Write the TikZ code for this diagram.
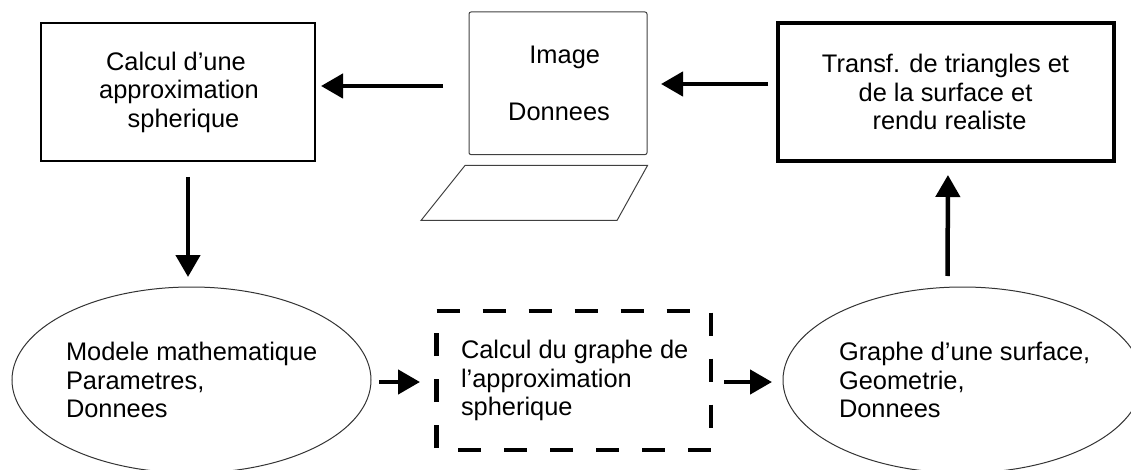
\documentclass[tikz,border=0pt]{standalone}
\usepackage{fontspec}
\setmainfont{Liberation Sans}
\usetikzlibrary{arrows.meta,positioning,shapes}

\tikzset{
  flow/.style={line width=4.5pt, -{Triangle[length=22pt,width=24pt]}},
  thinbox/.style={draw, rectangle, line width=2pt, inner sep=0pt, outer sep=0pt, minimum width=274pt, minimum height=138pt},
  thickbox/.style={thinbox, line width=4pt, minimum width=336pt},
  screen/.style={draw=black!75, rectangle, rounded corners=2pt, line width=1pt, inner sep=0pt, outer sep=0pt, minimum width=178pt, minimum height=142.6pt},
  dashbox/.style={rectangle, inner sep=0pt, outer sep=0pt, minimum width=274.5pt, minimum height=139pt},
  blob/.style={draw=black!80, ellipse, line width=1pt, inner sep=0pt, outer sep=0pt, minimum width=359pt, minimum height=186pt},
  txt/.style={inner sep=0pt, outer sep=0pt, font=\fontsize{25.4}{28.5}\selectfont},
  txtc/.style={txt, align=center},
  txtl/.style={txt, align=left, anchor=west}
}

\begin{document}
\begin{tikzpicture}[x=1pt, y=-1pt]
  \useasboundingbox (0,0) rectangle (1131,470);
  \clip (0,0) rectangle (1131,470);

  % nodes

  %top row
  \node[thinbox] (approx) at (178,92) {};
  \node[screen, right=154pt of approx, yshift=8.7pt] (laptop) {};
  \node[thickbox, right=131pt of laptop, yshift=-8.7pt] (rendering) {};

  %bottom row
  \node[blob] (model) at (191.5,380) {};
  \node[dashbox, right=65.5pt of model, yshift=-0.5pt] (graphcalc) {};
  \node[blob, right=72pt of graphcalc, yshift=0.5pt] (surface) {};

  %texts
  \node[txtc, xshift=1pt] (approxtext) at (approx.center) {Calcul d’une\hspace*{6pt}\\approximation\\\hspace*{9pt}spherique};
  \node[txtc, xshift=1pt] (laptoptext) at (laptop.center) {\hspace*{11.4pt}Image\\[28.5pt]Donnees};
  \node[txtc, xshift=-0.5pt] (renderingtext) at (rendering.center) {Transf. de triangles et\\de la surface et\\\hspace*{8pt}rendu realiste};
  \node[txtl, xshift=54pt] (modeltext) at (model.west) {Modele mathematique\\Parametres,\\Donnees};
  \node[txtl, xshift=24.5pt] (graphcalctext) at (graphcalc.west) {Calcul du graphe de\\l’approximation\\spherique};
  \node[txtl, xshift=56pt] (surfacetext) at (surface.west) {Graphe d’une surface,\\Geometrie,\\Donnees};

  % shapes
  \draw[line width=4.5pt, dash pattern=on 23pt off 23pt] (graphcalc.north west) -- (graphcalc.north east) -- (graphcalc.south east) -- (graphcalc.south west) -- cycle;
  \draw[draw=black!75, line width=1pt] (465,165.5) -- (647.5,165.5) -- (617,220.5) -- (421,220.5) -- cycle;

  % edges
  \draw[flow, shorten <=26pt, shorten >=6pt] ([yshift=-2.7pt]laptop.west) -- ([yshift=6pt]approx.east);
  \draw[flow, shorten <=10pt, shorten >=14pt] ([yshift=8pt]rendering.west) -- ([yshift=-0.7pt]laptop.east);
  \draw[flow, shorten <=16pt, shorten >=10pt] ([xshift=10pt]approx.south) -- ([xshift=-3.5pt]model.north);
  \draw[flow, shorten <=11pt, shorten >=14pt] ([xshift=-15pt]surface.north) -- ([xshift=2pt]rendering.south);
  \draw[flow, shorten <=8pt, shorten >=16.5pt] ([yshift=-2pt]model.east) -- ([yshift=-1.5pt]graphcalc.west);
  \draw[flow, shorten <=13pt, shorten >=11pt] ([yshift=-1.5pt]graphcalc.east) -- ([yshift=-2pt]surface.west);

\end{tikzpicture}
\end{document}
